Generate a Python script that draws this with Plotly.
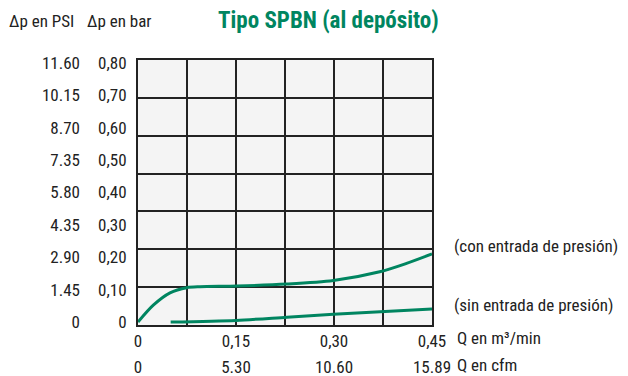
import numpy as np
import plotly.graph_objects as go

# Pressure drop (bar) against flow rate (m³/min)
q_con = [0.0, 0.0234, 0.049, 0.0745, 0.095, 0.151, 0.228, 0.299, 0.370, 0.411, 0.45]
dp_con = [0.0, 0.052, 0.090, 0.106, 0.109, 0.111, 0.117, 0.128, 0.155, 0.181, 0.210]
q_sin = [0.05, 0.15, 0.228, 0.299, 0.45]
dp_sin = [0.0, 0.005, 0.015, 0.024, 0.040]

q_ticks = [0, 0.15, 0.30, 0.45]
q_tick_m3 = ["0", "0,15", "0,30", "0,45"]
q_tick_cfm = ["0", "5.30", "10.60", "15.89"]
dp_ticks = [0, 0.1, 0.2, 0.3, 0.4, 0.5, 0.6, 0.7, 0.8]
dp_tick_bar = ["0", "0,10", "0,20", "0,30", "0,40", "0,50", "0,60", "0,70", "0,80"]
dp_tick_psi = ["0", "1.45", "2.90", "4.35", "5.80", "7.35", "8.70", "10.15", "11.60"]

W, H = 628, 376
PL, PR, PT, PB = 138, 432, 60, 325
GREEN = "#008560"
GRID = "#222222"
FONT = "Liberation Sans Narrow, Roboto Condensed, DejaVu Sans Condensed, Arial Narrow, sans-serif"

# the labelled values sit 3 px inside the framed grid
pad = (dp_ticks[-1] - dp_ticks[0]) * 3 / (PB - PT - 6)
y_lo, y_hi = dp_ticks[0] - pad, dp_ticks[-1] + pad
n_rows = 7
grid_y = list(np.linspace(y_lo, y_hi, n_rows + 1))

px = lambda x: x / W
py = lambda y: 1 - y / H

fig = go.Figure()
fig.add_trace(go.Scatter(x=q_con, y=dp_con, mode="lines",
                         line=dict(color=GREEN, width=3, shape="spline", smoothing=0.8),
                         hoverinfo="skip", showlegend=False))
fig.add_trace(go.Scatter(x=q_sin, y=dp_sin, mode="lines",
                         line=dict(color=GREEN, width=3, shape="spline", smoothing=0.8),
                         hoverinfo="skip", showlegend=False))
# carriers for the PSI and cfm scales
fig.add_trace(go.Scatter(x=[q_ticks[0], q_ticks[-1]], y=[dp_ticks[0], dp_ticks[-1]],
                         xaxis="x2", yaxis="y2", mode="markers", marker=dict(opacity=0),
                         hoverinfo="skip", showlegend=False))

tick_font = dict(family=FONT, size=17, color="#222222")

fig.update_layout(
    width=W, height=H,
    margin=dict(l=0, r=0, t=0, b=0, pad=0, autoexpand=False),
    showlegend=False,
    paper_bgcolor="white",
    plot_bgcolor="#f4f4f4",
    font=dict(family=FONT, size=17, color="#222222"),
    xaxis=dict(domain=[px(PL), px(PR)], range=[q_ticks[0], q_ticks[-1]],
               tickvals=q_ticks, ticktext=q_tick_m3, tickfont=tick_font,
               showgrid=True, gridcolor=GRID, gridwidth=2,
               minor=dict(dtick=(q_ticks[1] - q_ticks[0]) / 2, showgrid=True,
                          gridcolor=GRID, gridwidth=2, ticks=""),
               showline=True, mirror=True, linecolor=GRID, linewidth=2,
               ticks="", ticklabelstandoff=0, zeroline=False, fixedrange=True,
               automargin=False),
    xaxis2=dict(overlaying="x", anchor="free", position=py(355), side="bottom",
                range=[q_ticks[0], q_ticks[-1]], tickvals=q_ticks, ticktext=q_tick_cfm,
                tickfont=tick_font, showgrid=False, showline=False, ticks="",
                zeroline=False, fixedrange=True, automargin=False),
    yaxis=dict(domain=[py(PB), py(PT)], range=[y_lo, y_hi],
               tickvals=dp_ticks, ticktext=dp_tick_bar, tickfont=tick_font,
               showgrid=False,
               minor=dict(tickvals=grid_y, showgrid=True, gridcolor=GRID, gridwidth=2, ticks=""),
               showline=True, mirror=True, linecolor=GRID, linewidth=2,
               ticks="", ticklabelstandoff=6, zeroline=False, fixedrange=True,
               automargin=False),
    yaxis2=dict(overlaying="y", anchor="free", position=px(88), side="left",
                range=[y_lo, y_hi], tickvals=dp_ticks, ticktext=dp_tick_psi,
                tickfont=tick_font, showgrid=False, showline=False, ticks="",
                ticklabelstandoff=8, zeroline=False, fixedrange=True, automargin=False),
)

annots = [
    dict(text="<b>Tipo SPBN (al depósito)</b>", x=px(328), y=py(21),
         xanchor="center", font=dict(family=FONT, size=23, color=GREEN)),
    dict(text="Δp en PSI", x=px(7), y=py(21), xanchor="left", font=tick_font),
    dict(text="Δp en bar", x=px(85), y=py(21), xanchor="left", font=tick_font),
    dict(text="(con entrada de presión)", x=px(452), y=py(246), xanchor="left", font=tick_font),
    dict(text="(sin entrada de presión)", x=px(452), y=py(305), xanchor="left", font=tick_font),
    dict(text="Q en m³/min", x=px(455), y=py(338), xanchor="left", font=tick_font),
    dict(text="Q en cfm", x=px(455), y=py(365), xanchor="left", font=tick_font),
]
for a in annots:
    a.update(xref="paper", yref="paper", yanchor="middle", showarrow=False)
fig.update_layout(annotations=annots)

fig.write_html("out.html")
